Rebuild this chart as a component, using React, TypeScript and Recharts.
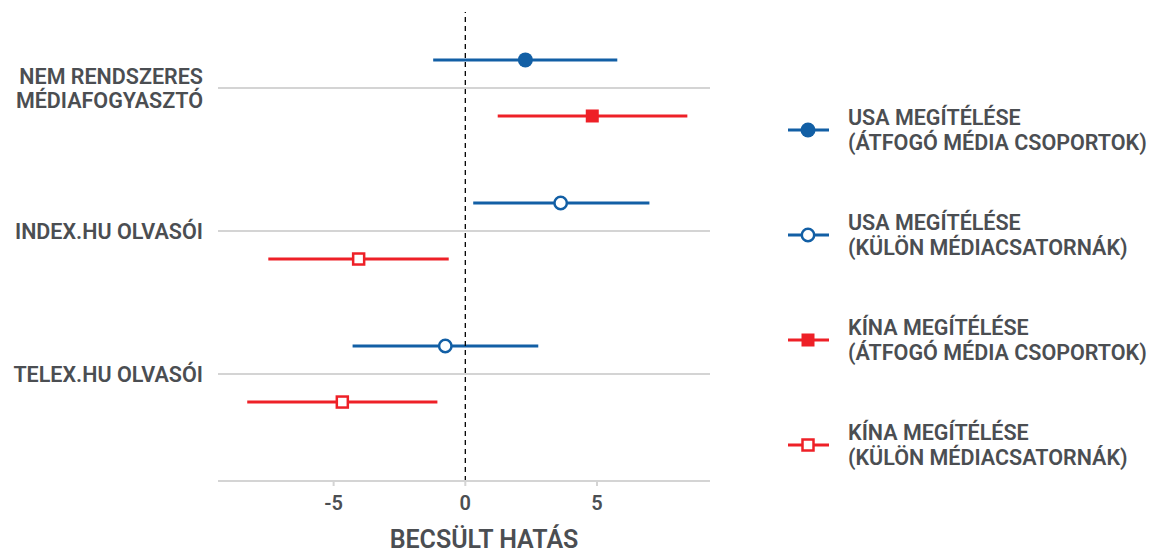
import {
  CartesianGrid,
  ComposedChart,
  ErrorBar,
  ReferenceLine,
  Scatter,
  XAxis,
  YAxis,
} from "recharts";

// categories, top to bottom
const categories = [
  ["NEM RENDSZERES", "MÉDIAFOGYASZTÓ"],
  ["INDEX.HU OLVASÓI"],
  ["TELEX.HU OLVASÓI"],
];

// estimates with 95% interval
const usaAtfogo = [{ cat: 0, est: 2.28, low: -1.22, high: 5.77 }];
const kinaAtfogo = [{ cat: 0, est: 4.82, low: 1.23, high: 8.43 }];
const usaKulon = [
  { cat: 1, est: 3.62, low: 0.3, high: 6.99 },
  { cat: 2, est: -0.76, low: -4.28, high: 2.77 },
];
const kinaKulon = [
  { cat: 1, est: -4.05, low: -7.48, high: -0.63 },
  { cat: 2, est: -4.67, low: -8.28, high: -1.06 },
];

const xTicks = [-5, 0, 5];
const yTicks = [1, 2, 3];

const BLUE = "#125fa5";
const RED = "#ee2027";
const TEXT = "#4b4e52";
const FONT = "Roboto, 'Noto Sans', sans-serif";

type Kind = "circle" | "circleOpen" | "square" | "squareOpen";

const series = [
  { name: ["USA MEGÍTÉLÉSE", "(ÁTFOGÓ MÉDIA CSOPORTOK)"], rows: usaAtfogo, color: BLUE, kind: "circle" as Kind, shift: 0.196 },
  { name: ["USA MEGÍTÉLÉSE", "(KÜLÖN MÉDIACSATORNÁK)"], rows: usaKulon, color: BLUE, kind: "circleOpen" as Kind, shift: 0.196 },
  { name: ["KÍNA MEGÍTÉLÉSE", "(ÁTFOGÓ MÉDIA CSOPORTOK)"], rows: kinaAtfogo, color: RED, kind: "square" as Kind, shift: -0.196 },
  { name: ["KÍNA MEGÍTÉLÉSE", "(KÜLÖN MÉDIACSATORNÁK)"], rows: kinaKulon, color: RED, kind: "squareOpen" as Kind, shift: -0.196 },
];

const catPos = (i: number) => categories.length - i;

const Marker = ({ cx, cy, kind, color }: { cx: number; cy: number; kind: Kind; color: string }) => {
  if (kind === "circle") return <circle cx={cx} cy={cy} r={7.5} fill={color} />;
  if (kind === "circleOpen")
    return <circle cx={cx} cy={cy} r={6.2} fill="#fff" stroke={color} strokeWidth={2.5} />;
  if (kind === "square") return <rect x={cx - 6.5} y={cy - 6.5} width={13} height={13} fill={color} />;
  return <rect x={cx - 5.5} y={cy - 5.5} width={11} height={11} fill="#fff" stroke={color} strokeWidth={2.5} />;
};

const CategoryTick = ({ x, y, payload }: any) => {
  const lines = categories[categories.length - payload.value] ?? [];
  const first = lines.length === 1 ? 8 : -4;
  return (
    <text x={x} y={y} textAnchor="end" fill={TEXT} fontSize={21.5} fontWeight={600} fontFamily={FONT}>
      {lines.map((l, i) => (
        <tspan key={i} x={x} y={y + first + i * 24}>
          {l}
        </tspan>
      ))}
    </text>
  );
};

const Legend = () => (
  <div style={{ position: "absolute", left: 787, top: 0 }}>
    {series.map((s, i) => (
      <div key={i} style={{ position: "absolute", top: 130 + i * 105 - 15, left: 0, width: 380, height: 30 }}>
        <svg width={44} height={30} style={{ position: "absolute", left: 0, top: 0 }}>
          <line x1={1} x2={42} y1={15} y2={15} stroke={s.color} strokeWidth={3} />
          <Marker cx={21} cy={15} kind={s.kind} color={s.color} />
        </svg>
        <div
          style={{
            position: "absolute",
            left: 61,
            top: -10,
            fontFamily: FONT,
            fontWeight: 600,
            fontSize: 21.5,
            lineHeight: "25px",
            color: TEXT,
            whiteSpace: "nowrap",
          }}
        >
          {s.name[0]}
          <br />
          {s.name[1]}
        </div>
      </div>
    ))}
  </div>
);

export default function App() {
  return (
    <div style={{ position: "absolute", left: 0, top: 0, width: 1154, height: 553, background: "#fff" }}>
      <ComposedChart width={1154} height={553} margin={{ top: 12, right: 444, bottom: 0, left: 0 }}>
        <CartesianGrid vertical={false} horizontalValues={yTicks} stroke="#d4d4d4" strokeWidth={2} />
        <XAxis
          type="number"
          dataKey="x"
          domain={[-9.39, 9.29]}
          allowDataOverflow
          ticks={xTicks}
          height={72}
          tickSize={5}
          tickMargin={10}
          stroke="#d4d4d4"
          strokeWidth={2}
          tick={{ fill: TEXT, fontSize: 20, fontWeight: 600, fontFamily: FONT }}
          label={{
            value: "BECSÜLT HATÁS",
            position: "insideBottom",
            offset: 5,
            dx: 20,
            fill: TEXT,
            fontSize: 25,
            fontWeight: 600,
            fontFamily: FONT,
          }}
        />
        <YAxis
          type="number"
          dataKey="y"
          domain={[0.252, 3.531]}
          allowDataOverflow
          ticks={yTicks}
          width={218}
          axisLine={false}
          tickLine={false}
          tickSize={0}
          tickMargin={15}
          tick={<CategoryTick />}
        />
        {series.map((s, i) => (
          <Scatter
            key={i}
            data={s.rows.map((r) => ({
              x: r.est,
              y: catPos(r.cat) + s.shift,
              err: [r.est - r.low, r.high - r.est],
            }))}
            isAnimationActive={false}
            shape={(p: any) => <Marker cx={p.cx} cy={p.cy} kind={s.kind} color={s.color} />}
          >
            <ErrorBar dataKey="err" direction="x" width={0} stroke={s.color} strokeWidth={3} isAnimationActive={false} />
          </Scatter>
        ))}
        <ReferenceLine x={0} stroke="#000" strokeDasharray="5 4" strokeWidth={1.3} />
      </ComposedChart>
      <Legend />
    </div>
  );
}
